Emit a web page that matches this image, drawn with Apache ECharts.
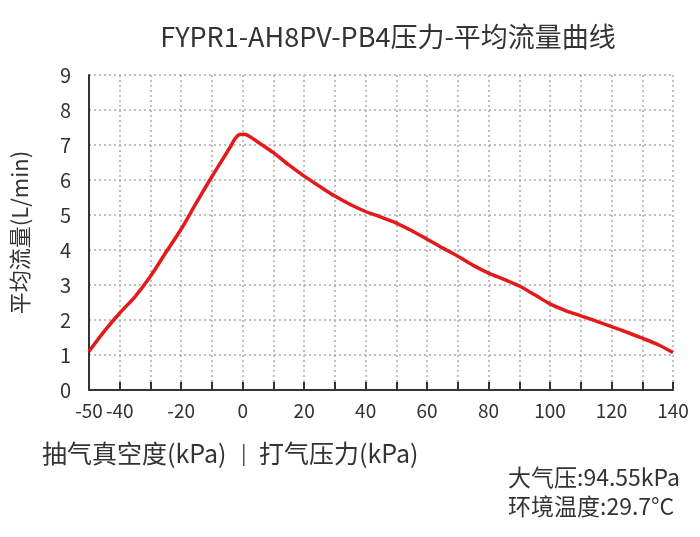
<!DOCTYPE html>
<html>
<head>
<meta charset="utf-8">
<script src="https://cdn.jsdelivr.net/npm/echarts@6/dist/echarts.min.js"></script>
<style>
  html, body { margin: 0; padding: 0; background: #fff; }
  #chart { width: 700px; height: 537px; }
</style>
</head>
<body>
<div id="chart"></div>
<script>
const pressure = [-50, -45, -40, -35, -30, -25, -20, -15, -10, -4, -2.5, -1, 0.5, 2, 5, 10, 15, 20, 25, 30, 35, 40, 45, 50, 55, 60, 65, 70, 75, 80, 85, 90, 95, 100, 105, 110, 115, 120, 125, 130, 135, 140];
const flow = [1.1, 1.68, 2.2, 2.67, 3.25, 3.93, 4.6, 5.36, 6.1, 6.95, 7.18, 7.3, 7.31, 7.26, 7.08, 6.78, 6.43, 6.11, 5.82, 5.54, 5.3, 5.1, 4.94, 4.77, 4.55, 4.31, 4.06, 3.82, 3.56, 3.34, 3.16, 2.97, 2.72, 2.46, 2.27, 2.12, 1.97, 1.81, 1.65, 1.48, 1.3, 1.07];

const FONT = "Noto Sans CJK SC";
const TXT = "#333";

var myChart = echarts.init(document.getElementById("chart"));
var option = {
  animation: false,
  textStyle: { fontFamily: FONT },
  title: {
    text: "FYPR1-AH8PV-PB4压力-平均流量曲线",
    left: 383,
    top: 18,
    textAlign: "center",
    textStyle: { fontFamily: FONT, fontSize: 27, fontWeight: "normal", color: TXT },
  },
  grid: { left: 89, right: 27, top: 75, bottom: 147 },
  xAxis: {
    type: "value",
    min: -50,
    max: 140,
    interval: 10,
    axisLine: { onZero: false, lineStyle: { color: "#333", width: 2 } },
    axisTick: { inside: true, length: 8, lineStyle: { color: "#333", width: 2 } },
    axisLabel: {
      color: TXT,
      fontSize: 19,
      margin: 11,
      formatter: (v) => (v === -50 || v % 20 === 0 ? String(v) : ""),
    },
    splitLine: { lineStyle: { color: "#aaa", type: [2, 3], width: 1.5 } },
  },
  yAxis: {
    type: "value",
    min: 0,
    max: 9,
    interval: 1,
    name: "平均流量(L/min)",
    nameLocation: "middle",
    nameGap: 58,
    nameTextStyle: { color: TXT, fontSize: 22 },
    axisLine: { show: true, onZero: false, lineStyle: { color: "#333", width: 2 } },
    axisTick: { show: false },
    axisLabel: { color: TXT, fontSize: 20, margin: 18 },
    splitLine: { lineStyle: { color: "#aaa", type: [2, 3], width: 1.5 } },
  },
  graphic: [
    {
      type: "text",
      left: 42,
      top: 441,
      style: { text: "抽气真空度(kPa)", font: "25px 'Noto Sans CJK SC'", fill: TXT },
    },
    {
      type: "rect",
      left: 243,
      top: 444,
      shape: { width: 1.5, height: 22 },
      style: { fill: "#555" },
    },
    {
      type: "text",
      left: 259,
      top: 441,
      style: { text: "打气压力(kPa)", font: "25px 'Noto Sans CJK SC'", fill: TXT },
    },
    {
      type: "text",
      left: 508,
      top: 466,
      style: { text: "大气压:94.55kPa", font: "23px 'Noto Sans CJK SC'", fill: TXT },
    },
    {
      type: "text",
      left: 508,
      top: 495,
      style: { text: "环境温度:29.7°C", font: "23px 'Noto Sans CJK SC'", fill: TXT },
    },
  ],
  series: [
    {
      type: "line",
      smooth: 0.3,
      symbol: "none",
      lineStyle: { color: "#e3191c", width: 3.5 },
      data: pressure.map((p, i) => [p, flow[i]]),
    },
  ],
};
myChart.setOption(option);
</script>
</body>
</html>
